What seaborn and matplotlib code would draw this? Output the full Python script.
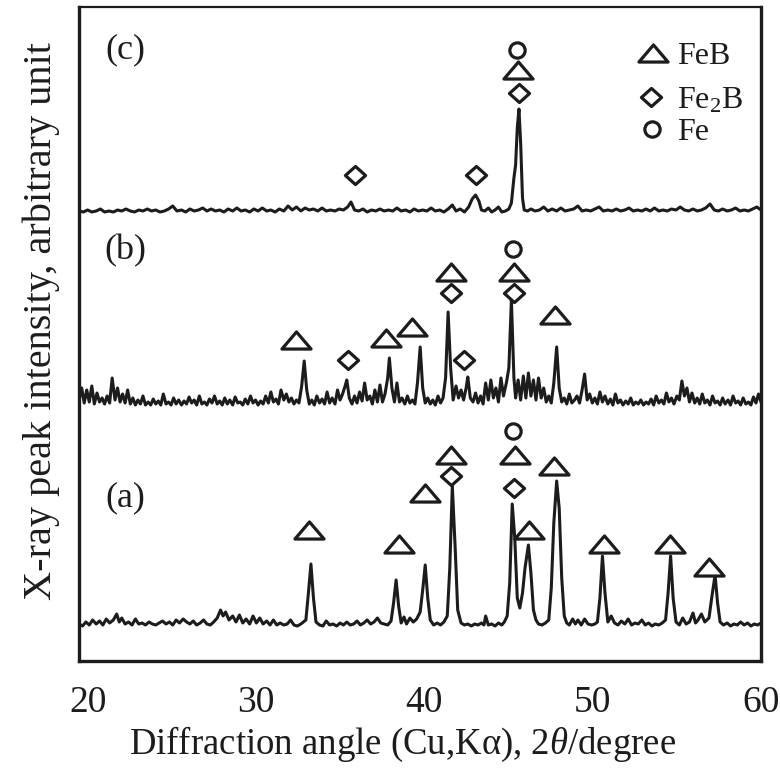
import numpy as np
import pandas as pd
import seaborn as sns
import matplotlib
matplotlib.use("Agg")
import matplotlib.pyplot as plt
from matplotlib.path import Path

# ---------------- data (2theta in degree, intensity in arbitrary units) ----------------
pattern_a = [
    (19.49, 4), (19.69, 2), (19.89, 6), (20.09, 3), (20.29, 8), (20.50, 4), (20.70, 7), (20.90, 3), (21.10, 9), (21.30, 5),
    (21.52, 8), (21.72, 14), (21.87, 6), (22.02, 10), (22.22, 4), (22.42, 6), (22.63, 3), (22.83, 9), (23.03, 4), (23.23, 5),
    (23.43, 3), (23.64, 6), (23.84, 4), (24.04, 3), (24.24, 5), (24.44, 7), (24.65, 4), (24.85, 6), (25.05, 3), (25.25, 8),
    (25.45, 5), (25.67, 9), (25.87, 6), (26.07, 4), (26.27, 7), (26.47, 3), (26.68, 5), (26.88, 8), (27.08, 4), (27.28, 3),
    (27.48, 6), (27.69, 10), (27.89, 18), (28.04, 12), (28.19, 16), (28.39, 8), (28.61, 12), (28.81, 6), (29.01, 13), (29.21, 5),
    (29.41, 9), (29.62, 4), (29.82, 12), (30.02, 5), (30.22, 10), (30.42, 4), (30.63, 7), (30.83, 3), (31.03, 8), (31.23, 3),
    (31.43, 5), (31.65, 3), (31.85, 4), (32.05, 8), (32.25, 3), (32.45, 2), (32.66, 4), (32.96, 8), (33.11, 35), (33.26, 64),
    (33.41, 30), (33.56, 6), (33.77, 3), (33.97, 2), (34.17, 7), (34.37, 3), (34.57, 4), (34.79, 2), (34.99, 5), (35.19, 3),
    (35.39, 6), (35.59, 3), (35.80, 4), (36.00, 7), (36.20, 3), (36.40, 5), (36.60, 8), (36.81, 4), (37.01, 6), (37.21, 10),
    (37.41, 5), (37.61, 4), (37.82, 3), (38.02, 7), (38.17, 25), (38.32, 48), (38.47, 22), (38.62, 5), (38.79, 11), (38.94, 4),
    (39.14, 10), (39.34, 6), (39.54, 9), (39.75, 16), (39.90, 38), (40.05, 63), (40.20, 30), (40.35, 8), (40.55, 3), (40.76, 5),
    (40.96, 3), (41.16, 6), (41.36, 12), (41.51, 60), (41.66, 142), (41.83, 80), (41.98, 18), (42.18, 5), (42.38, 3), (42.58, 4),
    (42.79, 2), (42.99, 4), (43.19, 3), (43.39, 5), (43.54, 3), (43.64, 12), (43.80, 3), (44.00, 4), (44.20, 2), (44.40, 5),
    (44.60, 3), (44.75, 6), (44.92, 12), (45.07, 45), (45.22, 124), (45.37, 90), (45.52, 30), (45.67, 20), (45.83, 35), (45.98, 60),
    (46.18, 83), (46.33, 55), (46.48, 18), (46.63, 8), (46.78, 4), (46.99, 3), (47.19, 5), (47.39, 8), (47.54, 40), (47.69, 105),
    (47.86, 147), (48.01, 120), (48.16, 50), (48.31, 12), (48.46, 5), (48.61, 3), (48.81, 9), (48.97, 4), (49.12, 8), (49.32, 3),
    (49.52, 9), (49.72, 4), (49.93, 3), (50.13, 4), (50.28, 6), (50.43, 30), (50.58, 72), (50.73, 35), (50.90, 6), (51.10, 12),
    (51.30, 5), (51.50, 3), (51.70, 7), (51.91, 4), (52.11, 9), (52.31, 3), (52.51, 5), (52.71, 4), (52.92, 8), (53.12, 3),
    (53.32, 5), (53.52, 2), (53.72, 4), (53.93, 3), (54.13, 5), (54.33, 8), (54.48, 35), (54.63, 72), (54.78, 30), (54.95, 6),
    (55.15, 3), (55.35, 10), (55.55, 4), (55.75, 6), (55.96, 15), (56.11, 5), (56.26, 8), (56.46, 14), (56.66, 6), (56.91, 10),
    (57.07, 30), (57.27, 53), (57.42, 25), (57.57, 6), (57.77, 3), (57.99, 5), (58.19, 2), (58.39, 4), (58.59, 3), (58.79, 6),
    (59.00, 3), (59.20, 5), (59.40, 2), (59.60, 4), (59.80, 3), (60.00, 5),
]

pattern_b = [
    (19.49, 8), (19.64, 20), (19.79, 5), (19.94, 18), (20.09, 6), (20.24, 22), (20.39, 4), (20.55, 15), (20.70, 6), (20.85, 10),
    (21.00, 4), (21.15, 12), (21.30, 5), (21.45, 30), (21.62, 8), (21.77, 20), (21.92, 6), (22.07, 14), (22.22, 5), (22.37, 18),
    (22.53, 4), (22.68, 10), (22.83, 3), (22.98, 8), (23.13, 4), (23.28, 12), (23.43, 3), (23.59, 6), (23.74, 3), (23.89, 9),
    (24.04, 4), (24.19, 7), (24.34, 3), (24.49, 14), (24.65, 4), (24.80, 6), (24.95, 3), (25.10, 10), (25.25, 4), (25.40, 8),
    (25.57, 3), (25.72, 7), (25.87, 4), (26.02, 11), (26.17, 5), (26.32, 8), (26.47, 3), (26.63, 12), (26.78, 4), (26.93, 6),
    (27.08, 3), (27.23, 9), (27.38, 5), (27.53, 12), (27.69, 4), (27.84, 7), (27.99, 3), (28.14, 10), (28.29, 4), (28.44, 8),
    (28.61, 3), (28.76, 11), (28.91, 5), (29.06, 6), (29.21, 3), (29.36, 9), (29.51, 4), (29.67, 12), (29.82, 5), (29.97, 8),
    (30.12, 3), (30.27, 7), (30.42, 4), (30.57, 12), (30.73, 5), (30.88, 16), (31.03, 6), (31.18, 9), (31.33, 4), (31.48, 18),
    (31.65, 8), (31.80, 14), (31.95, 6), (32.10, 10), (32.25, 4), (32.40, 8), (32.55, 5), (32.71, 22), (32.86, 47), (33.01, 18),
    (33.16, 4), (33.31, 8), (33.46, 3), (33.61, 12), (33.77, 5), (33.92, 9), (34.07, 4), (34.22, 16), (34.37, 5), (34.52, 10),
    (34.69, 4), (34.84, 18), (34.99, 8), (35.14, 14), (35.29, 22), (35.39, 28), (35.54, 10), (35.70, 4), (35.85, 12), (36.00, 5),
    (36.15, 16), (36.30, 7), (36.45, 25), (36.60, 8), (36.76, 12), (36.91, 4), (37.06, 18), (37.21, 6), (37.36, 23), (37.51, 6),
    (37.66, 14), (37.82, 30), (37.92, 50), (38.07, 20), (38.22, 6), (38.37, 25), (38.52, 6), (38.67, 10), (38.84, 4), (38.99, 12),
    (39.14, 5), (39.29, 8), (39.44, 4), (39.59, 25), (39.75, 61), (39.90, 20), (40.05, 5), (40.20, 10), (40.35, 4), (40.50, 8),
    (40.65, 3), (40.81, 12), (40.96, 5), (41.11, 10), (41.26, 30), (41.41, 96), (41.56, 40), (41.71, 8), (41.88, 22), (42.03, 10),
    (42.18, 18), (42.33, 8), (42.48, 20), (42.58, 31), (42.73, 10), (42.89, 6), (43.04, 15), (43.19, 5), (43.34, 12), (43.49, 4),
    (43.64, 25), (43.80, 8), (43.95, 28), (44.10, 10), (44.25, 20), (44.40, 6), (44.55, 30), (44.70, 12), (44.87, 25), (45.02, 40),
    (45.17, 108), (45.32, 30), (45.42, 10), (45.57, 28), (45.72, 8), (45.88, 32), (46.03, 10), (46.18, 35), (46.33, 12), (46.48, 28),
    (46.63, 8), (46.78, 30), (46.94, 10), (47.09, 20), (47.24, 6), (47.39, 12), (47.54, 5), (47.69, 25), (47.86, 61), (48.01, 20),
    (48.16, 6), (48.31, 10), (48.46, 4), (48.61, 14), (48.76, 5), (48.92, 8), (49.07, 12), (49.22, 5), (49.37, 18), (49.52, 34),
    (49.67, 8), (49.82, 14), (49.98, 5), (50.13, 10), (50.28, 4), (50.43, 16), (50.58, 6), (50.73, 12), (50.90, 4), (51.05, 9),
    (51.20, 3), (51.35, 14), (51.50, 5), (51.65, 8), (51.80, 3), (51.96, 7), (52.11, 4), (52.26, 10), (52.41, 3), (52.56, 6),
    (52.71, 4), (52.86, 8), (53.02, 3), (53.17, 6), (53.32, 4), (53.47, 9), (53.62, 3), (53.77, 12), (53.93, 5), (54.08, 8),
    (54.23, 4), (54.38, 15), (54.53, 6), (54.68, 10), (54.83, 4), (55.00, 12), (55.15, 8), (55.30, 27), (55.45, 12), (55.60, 20),
    (55.75, 6), (55.90, 15), (56.06, 5), (56.21, 10), (56.36, 4), (56.51, 14), (56.66, 5), (56.81, 8), (56.97, 3), (57.12, 12),
    (57.27, 5), (57.42, 7), (57.57, 3), (57.72, 10), (57.87, 4), (58.04, 8), (58.19, 3), (58.34, 12), (58.49, 5), (58.64, 7),
    (58.79, 3), (58.94, 10), (59.10, 4), (59.25, 6), (59.40, 3), (59.55, 11), (59.70, 5), (59.85, 14), (60.00, 6),
]

pattern_c = [
    (19.49, 2), (19.74, 1), (19.99, 3), (20.24, 1), (20.50, 2), (20.75, 4), (21.00, 1), (21.25, 2), (21.52, 1), (21.77, 3),
    (22.02, 2), (22.27, 4), (22.53, 2), (22.78, 1), (23.03, 3), (23.28, 2), (23.54, 4), (23.79, 2), (24.04, 3), (24.29, 1),
    (24.55, 2), (24.80, 4), (25.05, 7), (25.30, 2), (25.57, 3), (25.82, 1), (26.07, 4), (26.32, 2), (26.58, 3), (26.83, 5),
    (27.08, 2), (27.33, 4), (27.59, 2), (27.84, 3), (28.09, 1), (28.34, 4), (28.61, 2), (28.86, 5), (29.11, 2), (29.36, 3),
    (29.62, 1), (29.87, 4), (30.12, 2), (30.37, 5), (30.63, 2), (30.88, 3), (31.13, 1), (31.38, 4), (31.65, 2), (31.90, 7),
    (32.15, 3), (32.40, 6), (32.66, 2), (32.91, 5), (33.16, 3), (33.41, 4), (33.67, 2), (33.92, 5), (34.17, 2), (34.42, 3),
    (34.69, 2), (34.94, 4), (35.19, 3), (35.44, 6), (35.64, 11), (35.85, 3), (36.10, 2), (36.35, 4), (36.60, 1), (36.86, 3),
    (37.11, 2), (37.36, 4), (37.61, 2), (37.87, 3), (38.12, 2), (38.37, 5), (38.62, 2), (38.89, 3), (39.14, 1), (39.39, 4),
    (39.64, 2), (39.90, 3), (40.15, 2), (40.40, 5), (40.65, 2), (40.91, 3), (41.16, 1), (41.41, 4), (41.66, 8), (41.88, 2),
    (42.13, 4), (42.38, 1), (42.63, 6), (42.84, 14), (43.04, 18), (43.24, 12), (43.39, 3), (43.59, 2), (43.80, 5), (44.00, 1),
    (44.20, 3), (44.40, 6), (44.60, 1), (44.82, 2), (45.02, 4), (45.17, 10), (45.32, 35), (45.42, 48), (45.52, 85), (45.62, 104),
    (45.72, 70), (45.83, 15), (45.93, 3), (46.13, 2), (46.33, 4), (46.58, 2), (46.84, 3), (47.09, 6), (47.34, 2), (47.59, 4),
    (47.86, 2), (48.11, 5), (48.36, 2), (48.61, 3), (48.87, 4), (49.12, 7), (49.37, 2), (49.62, 3), (49.88, 2), (50.13, 4),
    (50.38, 6), (50.63, 2), (50.90, 3), (51.15, 2), (51.40, 4), (51.65, 2), (51.91, 3), (52.16, 5), (52.41, 2), (52.66, 3),
    (52.92, 2), (53.17, 4), (53.42, 2), (53.67, 5), (53.93, 2), (54.18, 3), (54.43, 2), (54.68, 4), (54.95, 3), (55.20, 6),
    (55.45, 3), (55.70, 2), (55.96, 4), (56.21, 2), (56.46, 3), (56.71, 5), (56.97, 9), (57.22, 3), (57.47, 2), (57.72, 4),
    (57.99, 2), (58.24, 3), (58.49, 5), (58.74, 2), (59.00, 3), (59.25, 2), (59.50, 4), (59.75, 6), (60.00, 3),
]

sample_labels = ["(a)", "(b)", "(c)"]

# phase identification marks (2theta, height in the stacked plot)
feb_x = [45.57, 32.35, 37.72, 39.24, 41.61, 45.32, 47.77, 33.16, 38.50, 40.05, 41.61, 45.37, 46.23, 47.69, 50.68, 54.61, 56.94]
feb_y = [591, 321, 323, 334, 389, 389, 346, 131, 117, 168, 206, 206, 131, 195, 117, 117, 94]
fe2b_x = [35.85, 43.04, 45.62, 35.44, 41.61, 42.33, 45.32, 41.61, 45.32]
fe2b_y = [486, 486, 568, 301, 368, 301, 368, 185, 173]
fe_x = [45.52, 45.27, 45.27]
fe_y = [611, 412, 230]

phase_names = ["FeB", "Fe$_\\mathregular{2}$B", "Fe"]
x_ticks = [20, 30, 40, 50, 60]

# ---------------- layout / style ----------------
offsets = {"(a)": 33, "(b)": 253, "(c)": 448}
label_pos = {"(a)": (0.068, 0.250), "(b)": (0.068, 0.627), "(c)": (0.068, 0.934)}
ink = "#1c1c1c"

sns.set_theme(style="white")
plt.rcParams["font.family"] = ["Liberation Serif", "DejaVu Serif"]
plt.rcParams["mathtext.fontset"] = "custom"
plt.rcParams["mathtext.rm"] = "Liberation Serif"
plt.rcParams["mathtext.it"] = "Liberation Serif:italic"

fig = plt.figure(figsize=(7.8, 7.69), dpi=100)
ax = fig.add_axes([79 / 780, 108 / 769, 682 / 780, 654 / 769])

frames = []
for lab, pts in zip(sample_labels, [pattern_a, pattern_b, pattern_c]):
    df = pd.DataFrame(pts, columns=["two_theta", "intensity"])
    df["y"] = df["intensity"] + offsets[lab]
    df["sample"] = lab
    frames.append(df)
data = pd.concat(frames, ignore_index=True)

for lab in sample_labels:
    sub = data[data["sample"] == lab]
    sns.lineplot(data=sub, x="two_theta", y="y", ax=ax, sort=False, estimator=None,
                 color=ink, lw=2.2)

tri = Path([(-1.45, -0.85), (1.45, -0.85), (0.0, 0.85), (-1.45, -0.85)],
           [Path.MOVETO, Path.LINETO, Path.LINETO, Path.CLOSEPOLY])
dia = Path([(0, 0.9), (1.0, 0), (0, -0.9), (-1.0, 0), (0, 0.9)],
           [Path.MOVETO, Path.LINETO, Path.LINETO, Path.LINETO, Path.CLOSEPOLY])

mk = dict(linestyle="none", mfc="white", mec=ink, mew=2.3)
ax.plot(feb_x, feb_y, marker=tri, ms=21, **mk)
ax.plot(fe2b_x, fe2b_y, marker=dia, ms=14.5, **mk)
ax.plot(fe_x, fe_y, marker="o", ms=11, **mk)

# legend (manual, as in the original figure)
leg_items = [(tri, 21, 0.842, 0.930), (dia, 14.5, 0.839, 0.862), ("o", 11, 0.840, 0.813)]
for (m, s, lx, ly), name in zip(leg_items, phase_names):
    ax.plot([lx], [ly], marker=m, ms=s, transform=ax.transAxes, **mk)
    ax.text(0.877, ly, name, transform=ax.transAxes, fontsize=23, va="center_baseline", ha="left", color=ink)

for lab in sample_labels:
    ax.text(*label_pos[lab], lab, transform=ax.transAxes, fontsize=26, va="center", ha="center", color=ink)

ax.set_xlim(19.48, 60)
ax.set_ylim(0, 654)
ax.set_xticks(x_ticks)
ax.set_xticklabels([str(t) for t in x_ticks])
ax.set_yticks([])
ax.tick_params(axis="x", direction="in", length=9, width=2, labelsize=27, pad=18, colors=ink)
ax.set_xlabel("Diffraction angle (Cu,K\u03b1), 2$\\theta$/degree", fontsize=26.5, color=ink, labelpad=3)
ax.xaxis.label.set_x(0.474)
ax.set_ylabel("X-ray peak intensity, arbitrary unit", fontsize=29, color=ink, labelpad=14)
ax.yaxis.label.set_y(0.52)
for side in ["left", "right", "bottom"]:
    ax.spines[side].set_linewidth(2.4)
    ax.spines[side].set_color(ink)
ax.spines["top"].set_linewidth(1.6)
ax.spines["top"].set_color(ink)

fig.savefig("out.png", dpi=100)
